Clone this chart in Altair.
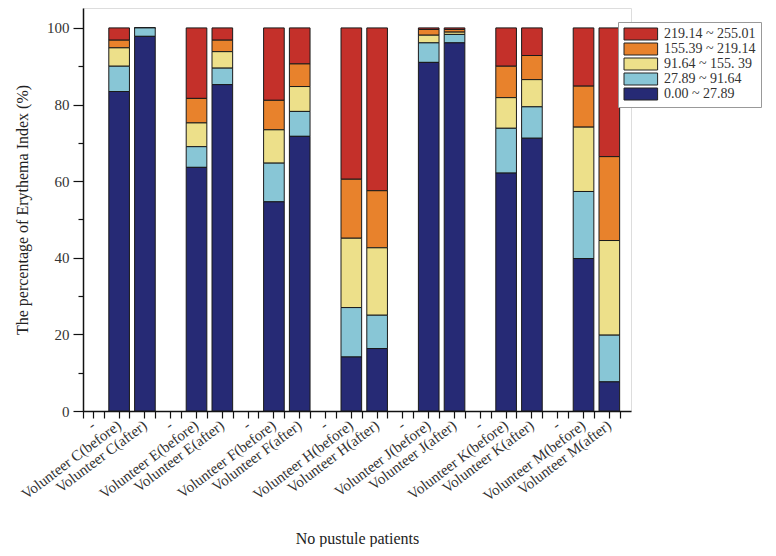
import altair as alt
import pandas as pd

# x categories (gap slots shown as "-")
categories = ["gap1", "Volunteer C(before)", "Volunteer C(after)",
              "gap2", "Volunteer E(before)", "Volunteer E(after)",
              "gap3", "Volunteer F(before)", "Volunteer F(after)",
              "gap4", "Volunteer H(before)", "Volunteer H(after)",
              "gap5", "Volunteer J(before)", "Volunteer J(after)",
              "gap6", "Volunteer K(before)", "Volunteer K(after)",
              "gap7", "Volunteer M(before)", "Volunteer M(after)"]

volunteers = ["Volunteer C(before)", "Volunteer C(after)",
              "Volunteer E(before)", "Volunteer E(after)",
              "Volunteer F(before)", "Volunteer F(after)",
              "Volunteer H(before)", "Volunteer H(after)",
              "Volunteer J(before)", "Volunteer J(after)",
              "Volunteer K(before)", "Volunteer K(after)",
              "Volunteer M(before)", "Volunteer M(after)"]

# legend order (top to bottom)
ranges = ["219.14 ~ 255.01", "155.39 ~ 219.14", "91.64 ~ 155. 39",
          "27.89 ~ 91.64", "0.00 ~ 27.89"]
colors = ["#c4302a", "#e8822c", "#ede08a", "#88c6d6", "#262a75"]

# percentages per range, per volunteer
r0_28 = [83.4, 97.8, 63.6, 85.2, 54.6, 71.7, 14.1, 16.3, 91.0, 96.1, 62.1, 71.2, 39.8, 7.6]
r28_92 = [6.6, 2.2, 5.4, 4.3, 10.1, 6.5, 12.9, 8.7, 5.1, 2.2, 11.7, 8.2, 17.5, 12.2]
r92_155 = [4.8, 0.0, 6.2, 4.3, 8.7, 6.5, 18.1, 17.6, 2.0, 0.6, 8.0, 7.1, 16.8, 24.7]
r155_219 = [2.0, 0.0, 6.4, 3.0, 7.7, 5.9, 15.4, 14.9, 1.5, 0.7, 8.2, 6.3, 10.7, 21.9]
r219_255 = [3.2, 0.0, 18.4, 3.2, 18.9, 9.4, 39.5, 42.5, 0.4, 0.4, 10.0, 7.2, 15.2, 33.6]

series = [r219_255, r155_219, r92_155, r28_92, r0_28]

rows = []
for ri, (rname, vals) in enumerate(zip(ranges, series)):
    for v, val in zip(volunteers, vals):
        rows.append({"volunteer": v, "range": rname, "value": val, "order": 4 - ri})
df = pd.DataFrame(rows)

FONT = "Liberation Serif"

xscale = alt.Scale(domain=categories, paddingInner=0.2, paddingOuter=0.22, align=0)
yscale = alt.Scale(domain=[0, 105.2], nice=False)

bars = alt.Chart(df).mark_bar(stroke="#1a1a1a", strokeWidth=1).encode(
    x=alt.X("volunteer:N", scale=xscale, sort=categories,
            axis=alt.Axis(title="No pustule patients", orient="bottom",
                          labelExpr="indexof(datum.value, 'gap') == 0 ? '-' : datum.value",
                          labelAngle=-37, labelAlign="right", labelBaseline="middle",
                          labelFont=FONT, labelFontSize=15, labelColor="#333",
                          labelPadding=5, tickSize=7, tickColor="#111", tickWidth=1.2,
                          domainColor="#111", domainWidth=1.5,
                          titleFont=FONT, titleFontSize=16, titleFontWeight="normal",
                          titleColor="#222", titlePadding=27, grid=False)),
    y=alt.Y("value:Q", stack="zero", scale=yscale,
            axis=alt.Axis(title="The percentage of Erythema Index (%)", orient="left",
                          values=[0, 20, 40, 60, 80, 100], tickSize=10, tickColor="#111",
                          tickWidth=1.2, domainColor="#111", domainWidth=1.5,
                          labelFont=FONT, labelFontSize=15, labelColor="#333",
                          labelPadding=4, titleFont=FONT, titleFontSize=16,
                          titleFontWeight="normal", titleColor="#222", titlePadding=16,
                          grid=False)),
    color=alt.Color("range:N", scale=alt.Scale(domain=ranges, range=colors),
                    legend=alt.Legend(title=None, orient="none", legendX=535, legendY=14,
                                      symbolType="M-1,-1H4.6V1H-1Z", symbolSize=144,
                                      symbolStrokeColor="#222", symbolStrokeWidth=1,
                                      symbolOpacity=1,
                                      labelFont=FONT, labelFontSize=14, labelColor="#333",
                                      labelOffset=27, rowPadding=-1,
                                      strokeColor="#999", padding=5, cornerRadius=0,
                                      fillColor="white")),
    order=alt.Order("order:Q"),
)

minor = alt.Chart(df).mark_bar(opacity=0).encode(
    x=alt.X("volunteer:N", scale=xscale, sort=categories,
            axis=alt.Axis(title=None, orient="bottom", labels=False, domain=False,
                          tickBand="extent", tickSize=7, tickColor="#111", tickWidth=1.2,
                          grid=False)),
    y=alt.Y("value:Q", stack="zero", scale=yscale,
            axis=alt.Axis(title=None, orient="left", labels=False, domain=False,
                          values=[10, 30, 50, 70, 90], tickSize=5, tickColor="#111",
                          tickWidth=1.2, grid=False)),
)

chart = alt.layer(bars, minor).resolve_axis(x="independent", y="independent").properties(
    width=548, height=403,
    padding={"left": 6, "top": 0, "right": 0, "bottom": 0},
).configure_view(stroke=None).configure(background="white").configure_legend(
    labelFont=FONT, labelFontSize=14
)

chart.save("out.html", embed_options={"renderer": "svg", "actions": False})
